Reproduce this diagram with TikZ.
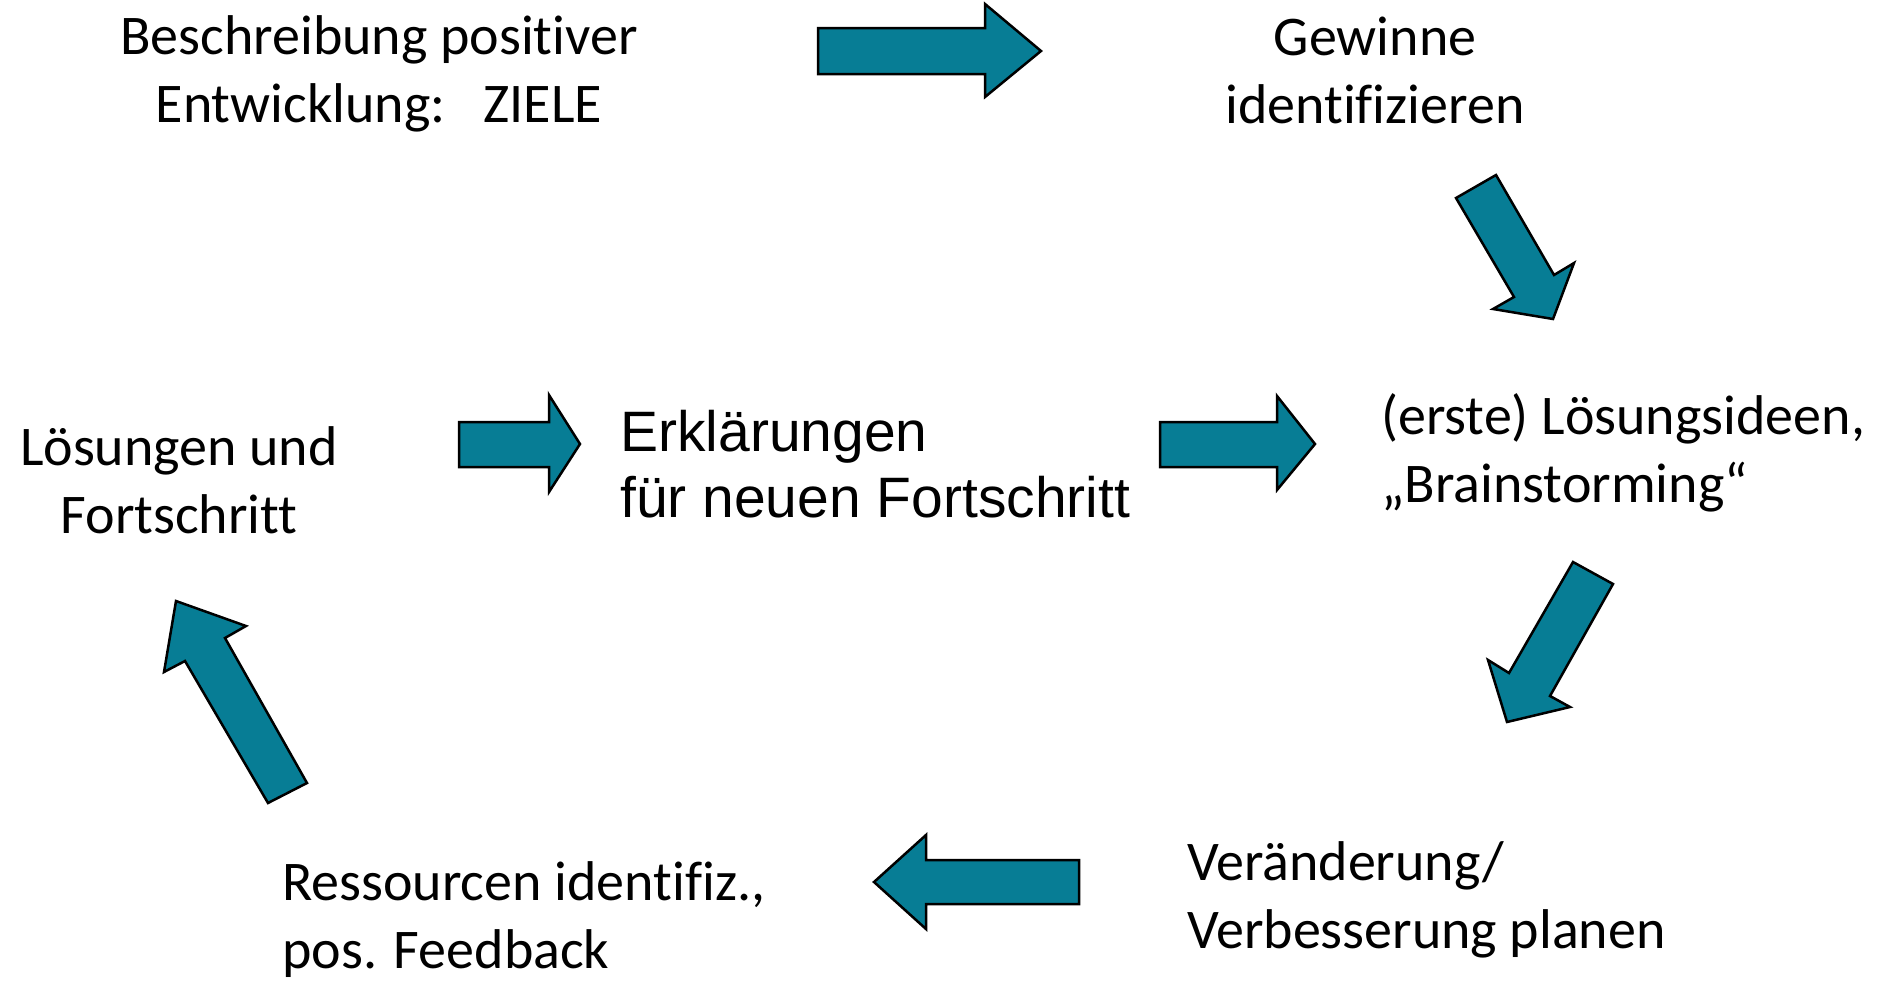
\documentclass[tikz,border=0pt]{standalone}
\usepackage{fontspec}
\setmainfont[RawFeature={-liga;-calt;-clig;-dlig}]{Carlito}
\newfontfamily\arialfont{Liberation Sans}
\definecolor{teal}{RGB}{7,125,149}
\begin{document}
\begin{tikzpicture}[x=1pt,y=-1pt,
  lbl/.style={inner sep=0pt, font=\fontsize{56}{68}\selectfont},
  arw/.style={fill=teal, draw=black, line width=2.5pt, line join=miter}]
\useasboundingbox (0,0) rectangle (1892,980);
% texts
\node[lbl, align=center] (ziele) at (379,74) {Beschreibung positiver\\Entwicklung:\ \ \ ZIELE};
\node[lbl, align=center] (gewinne) at (1375,70) {Gewinne\\identifizieren};
\node[lbl, align=left, anchor=west] (ideen) at (1381,453) {(erste) Lösungsideen,\\„Brainstorming“};
\node[lbl, align=center] (loes) at (179,480) {Lösungen und\\Fortschritt};
\node[lbl, align=left, anchor=west, font=\arialfont\fontsize{57}{66}\selectfont] (erkl) at (620,464) {Erklärungen\\für neuen Fortschritt};
\node[lbl, align=left, anchor=west] (veraend) at (1187,900) {Veränderung/\\Verbesserung planen};
\node[lbl, align=left, anchor=west] (ress) at (282,920) {Ressourcen identifiz.,\\pos. Feedback};
% block arrows
\draw[arw] (818,28) -- (985,28) -- (985,4) -- (1041,51) -- (985,97) -- (985,74) -- (818,74) -- cycle;
\draw[arw] (1456,198) -- (1496,175) -- (1554,275) -- (1574,263) -- (1553,319) -- (1493,309) -- (1514,297) -- cycle;
\draw[arw] (459,422) -- (549,422) -- (549,395) -- (580,444) -- (549,492) -- (549,467) -- (459,467) -- cycle;
\draw[arw] (1160,422) -- (1277,422) -- (1277,396) -- (1315,444) -- (1277,490) -- (1277,467) -- (1160,467) -- cycle;
\draw[arw] (1573,562) -- (1613,584) -- (1550,696) -- (1570,707) -- (1507,722) -- (1488,660) -- (1509,673) -- cycle;
\draw[arw] (1079,860) -- (926,860) -- (926,835) -- (874,882) -- (926,929) -- (926,904) -- (1079,904) -- cycle;
\draw[arw] (268,803) -- (307,783) -- (225,638) -- (246,626) -- (176,601) -- (164,672) -- (185,661) -- cycle;
\end{tikzpicture}
\end{document}
